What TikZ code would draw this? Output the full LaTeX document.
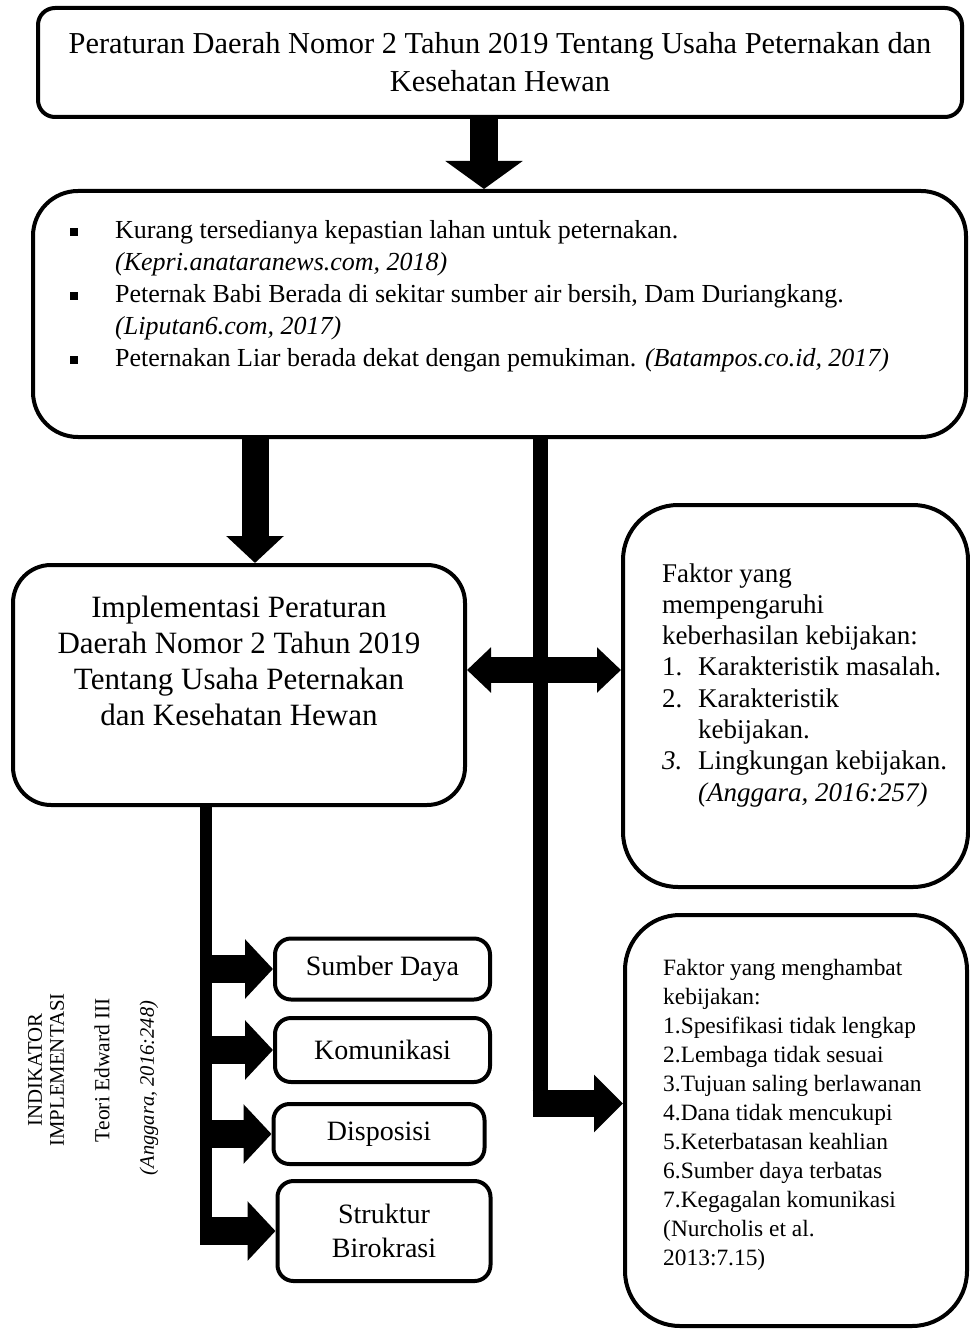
\documentclass[tikz,border=0pt]{standalone}
\usepackage{fontspec}
\setmainfont{Liberation Serif}
\usetikzlibrary{arrows.meta}
\newcommand{\fsz}[2]{\fontsize{#1}{#2}\selectfont}
\newcommand{\kotakhitam}{\rule[3pt]{8pt}{8pt}}

\begin{document}
\begin{tikzpicture}[line join=miter,x=1pt,y=-1pt,
    kotak/.style={draw,line width=4pt,rounded corners=#1,inner sep=0pt},
    kotak/.default=16pt,
    panah/.style n args={3}{line width=#1,-{Triangle[length=#2,width=#3]}},
    panahdua/.style={line width=26pt,{Triangle[length=24pt,width=44pt]}-{Triangle[length=24pt,width=44pt]}}]
\useasboundingbox (0,0) rectangle (969,1329);
% kotak utama
\node[kotak=17pt,minimum width=924pt,minimum height=109pt,align=center,font=\fsz{30.4}{38}] (perda) at (500,62.5) {Peraturan Daerah Nomor 2 Tahun 2019 Tentang Usaha Peternakan dan\\Kesehatan Hewan};
\node[kotak=45pt,minimum width=933pt,minimum height=246pt] (masalah) at (499.5,314) {};
\node[kotak=38pt,minimum width=452pt,minimum height=240pt] (impl) at (239,685) {};
\node[kotak=55pt,minimum width=345pt,minimum height=382pt] (faktor) at (795.5,696) {};
\node[kotak=55pt,minimum width=342pt,minimum height=411pt] (hambat) at (796,1120.5) {};
% indikator
\node[kotak,minimum width=215pt,minimum height=61pt,font=\fsz{28}{34}] (sd) at (382.5,969) {Sumber Daya};
\node[kotak,minimum width=215pt,minimum height=64pt,font=\fsz{28}{34}] (kom) at (382.5,1050) {Komunikasi};
\node[kotak,minimum width=211pt,minimum height=60pt,font=\fsz{28}{34}] (disp) at (379,1134) {Disposisi};
\node[kotak,minimum width=213pt,minimum height=100pt,align=center,font=\fsz{28}{34}] (sb) at (384,1231) {Struktur\\Birokrasi};
% isi teks
\node[anchor=base west,inner sep=0pt,font=\fsz{26}{32}] (daftar) at (70,239) {\begin{tabular}[t]{@{}l@{\hspace{37pt}}l@{}}
\kotakhitam & Kurang tersedianya kepastian lahan untuk peternakan.\\
 & \textit{(Kepri.anataranews.com, 2018)}\\
\kotakhitam & Peternak Babi Berada di sekitar sumber air bersih, Dam Duriangkang.\\
 & \textit{(Liputan6.com, 2017)}\\
\kotakhitam & Peternakan Liar berada dekat dengan pemukiman. \textit{(Batampos.co.id, 2017)}
\end{tabular}};
\node[font=\fsz{31}{36},align=center] (judulimpl) at (239,661) {Implementasi Peraturan\\Daerah Nomor 2 Tahun 2019\\Tentang Usaha Peternakan\\dan Kesehatan Hewan};
\node[anchor=base west,inner sep=0pt,font=\fsz{27}{31.3}] (daftarfaktor) at (662,582) {\begin{tabular}[t]{@{}p{36pt}@{}l@{}}
\multicolumn{2}{@{}l@{}}{Faktor yang}\\
\multicolumn{2}{@{}l@{}}{mempengaruhi}\\
\multicolumn{2}{@{}l@{}}{keberhasilan kebijakan:}\\
1. & Karakteristik masalah.\\
2. & Karakteristik\\
 & kebijakan.\\
\textit{3.} & Lingkungan kebijakan.\\
 & \textit{(Anggara, 2016:257)}
\end{tabular}};
\node[anchor=base west,inner sep=0pt,font=\fsz{23.4}{29}] (daftarhambat) at (663,975) {\begin{tabular}[t]{@{}l@{}}
Faktor yang menghambat\\
kebijakan:\\
1.Spesifikasi tidak lengkap\\
2.Lembaga tidak sesuai\\
3.Tujuan saling berlawanan\\
4.Dana tidak mencukupi\\
5.Keterbatasan keahlian\\
6.Sumber daya terbatas\\
7.Kegagalan komunikasi\\
(Nurcholis et al.\\
2013:7.15)
\end{tabular}};
% teks tegak
\node[rotate=90,align=center,font=\fsz{20.8}{22}] (indikator) at (46,1070) {INDIKATOR\\IMPLEMENTASI};
\node[rotate=90,font=\fsz{21.5}{22}] (teori) at (102,1070) {Teori Edward III};
\node[rotate=90,font=\fsz{20.5}{22}\itshape] (rujukan) at (149,1088) {(Anggara, 2016:248)};
% panah
\coordinate (xA) at (484,0);
\coordinate (xB) at (255,0);
\draw[panah={28pt}{28pt}{76pt}] (perda.south -| xA) -- (masalah.north -| xA);
\draw[panah={27pt}{27pt}{56pt}] (masalah.south -| xB) -- (impl.north -| xB);
\coordinate (yC) at (0,670);
\draw[panahdua] (impl.east |- yC) -- (faktor.west |- yC);
\coordinate (sikuB) at (540,1117);
\draw[line width=15pt] (masalah.south -| sikuB) -- (sikuB);
\coordinate (pangkalB) at ([xshift=-7.5pt,yshift=13.5pt]sikuB);
\draw[panah={27pt}{29pt}{56pt}] (pangkalB) -- (hambat.west |- pangkalB);
\coordinate (sikuA) at (206,1245);
\draw[line width=12pt] (impl.south -| sikuA) -- (sikuA);
\foreach \nama in {sd,kom,disp,sb}
  \draw[panah={28pt}{28pt}{58pt}] ([xshift=-6pt]\nama.west -| sikuA) -- (\nama.west);
\end{tikzpicture}
\end{document}
